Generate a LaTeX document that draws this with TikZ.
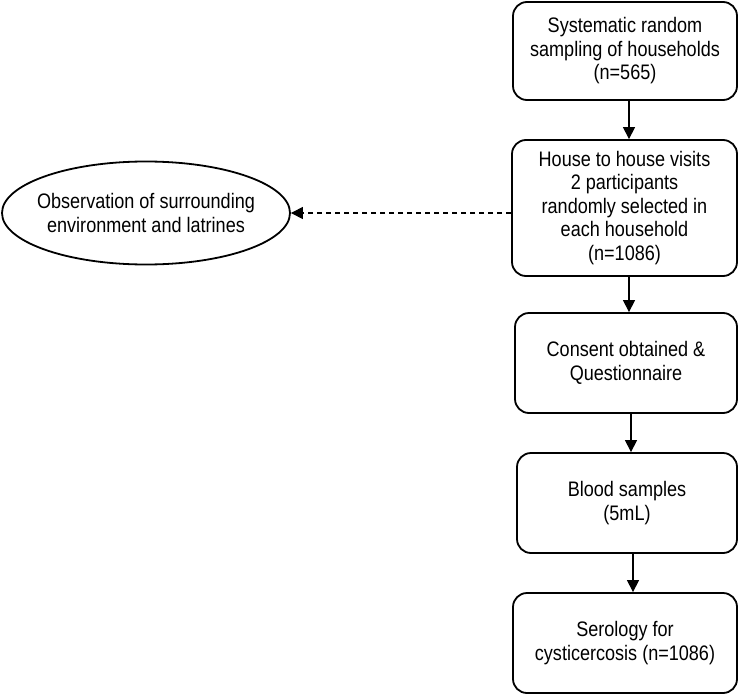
\documentclass[tikz,border=0pt]{standalone}
\usepackage{fontspec}
\setmainfont{Liberation Sans}[FakeStretch=0.86]
\usetikzlibrary{arrows.meta,shapes.geometric}
\begin{document}
\begin{tikzpicture}[x=1pt,y=-1pt,
  txt/.style={font=\fontsize{21}{23.5}\selectfont, align=center},
  stepbox/.style={txt, draw, line width=1.8pt, rounded corners=14pt, inner sep=0pt},
  arr/.style={line width=1.2pt, -{Triangle[length=12pt,width=12pt]}},
  darr/.style={line width=1.1pt, dash pattern=on 5pt off 4pt, -{Triangle[length=12pt,width=12pt]}}]
\useasboundingbox (0,0) rectangle (750,696);
\node[stepbox, minimum width=224pt, minimum height=98pt] (b1) at (625,51)
  {Systematic random\\sampling of households\\(n=565)};
\node[stepbox, minimum width=225pt, minimum height=136pt] (b2) at (624.5,208)
  {House to house visits\\2 participants\\randomly selected in\\each household\\(n=1086)};
\node[stepbox, minimum width=222pt, minimum height=100pt] (b3) at (626,363)
  {Consent obtained \&\\Questionnaire};
\node[stepbox, minimum width=220pt, minimum height=100pt] (b4) at (627,503)
  {Blood samples\\(5mL)};
\node[stepbox, minimum width=224pt, minimum height=100pt] (b5) at (625,643)
  {Serology for\\cysticercosis (n=1086)};
\node[draw, ellipse, line width=1.8pt, inner sep=0pt, minimum width=288pt, minimum height=103pt,
  label={[txt]center:{Observation of surrounding\\environment and latrines}}] (ell) at (146,213) {};
\draw[arr] (b1.south -| 629,0) -- (b2.north -| 629,0);
\draw[arr] (b2.south -| 629,0) -- (b3.north -| 629,0);
\draw[arr] (b3.south -| 631,0) -- (b4.north -| 631,0);
\draw[arr] (b4.south -| 633,0) -- (b5.north -| 633,0);
\draw[darr] (b2.west |- 0,213) -- (ell.east);
\end{tikzpicture}
\end{document}
